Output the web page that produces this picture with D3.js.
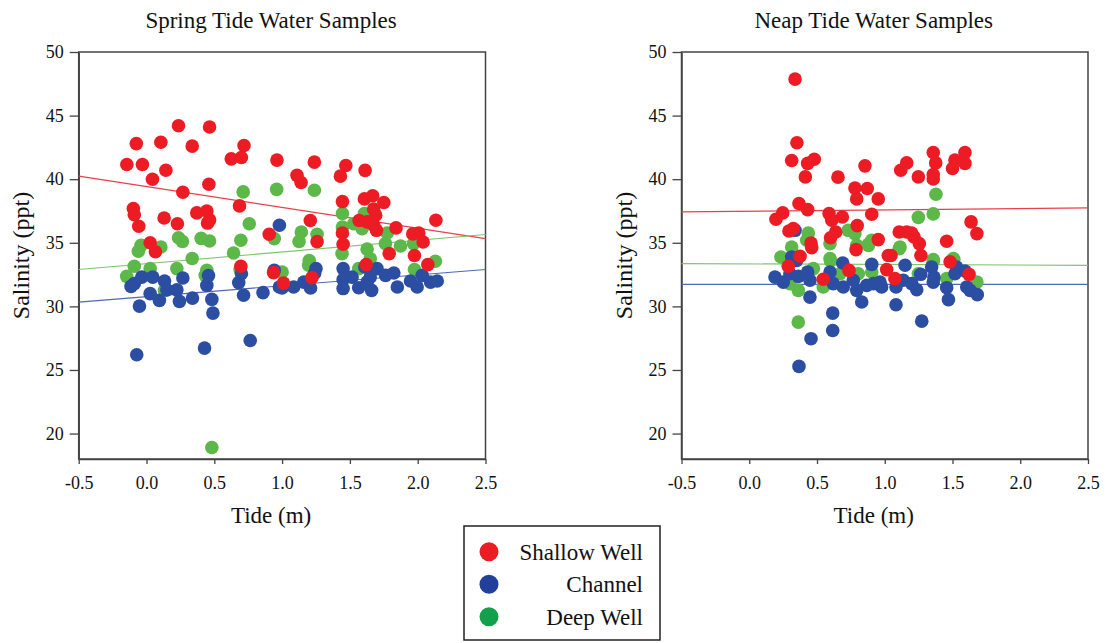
<!DOCTYPE html>
<html><head><meta charset="utf-8">
<script src="https://cdn.jsdelivr.net/npm/d3@7"></script>
<style>body{margin:0;background:#fff}svg{display:block}svg text{font-family:"Liberation Serif","Times New Roman",serif !important;fill:#111}</style>
</head><body><svg id="c" width="1111" height="643"></svg>
<script>
const seriesNames = ["Shallow Well", "Channel", "Deep Well"];
const panelTitles = ["Spring Tide Water Samples", "Neap Tide Water Samples"];
const xTicks = [-0.5, 0.0, 0.5, 1.0, 1.5, 2.0, 2.5];
const yTicks = [20, 25, 30, 35, 40, 45, 50];

// Spring tide: [tide (m), salinity (ppt)]
const springShallow = [[0.236,44.2],[0.465,44.1],[-0.075,42.8],[0.106,42.9],[0.337,42.6],[0.719,42.65],[0.625,41.6],[0.70,41.7],[-0.145,41.16],[-0.03,41.16],[0.143,40.7],[0.044,40.0],[0.962,41.5],[0.268,38.97],[0.46,39.6],[0.686,37.9],[-0.097,37.7],[-0.09,37.2],[-0.057,36.3],[0.13,36.95],[0.228,36.5],[0.371,37.35],[0.445,37.5],[0.465,36.8],[0.45,36.55],[0.027,35.0],[0.066,34.3],[0.905,35.67],[1.238,41.34],[1.11,40.3],[1.14,39.74],[1.47,41.08],[1.43,40.24],[1.612,40.69],[1.445,38.24],[1.607,38.45],[1.668,38.7],[1.75,38.17],[1.675,37.66],[1.69,37.17],[1.568,36.75],[1.627,36.64],[1.676,36.38],[1.696,35.98],[1.208,36.75],[2.134,36.77],[1.84,36.17],[1.964,35.7],[2.008,35.77],[2.04,35.06],[1.258,35.09],[1.445,35.77],[1.45,34.88],[1.79,34.15],[1.976,34.0],[2.075,33.28],[1.62,33.28],[0.937,32.65],[1.01,31.83],[1.22,32.26],[0.696,33.15]];
const springChannel = [[-0.114,31.57],[-0.09,31.79],[-0.035,32.3],[0.046,32.3],[0.133,32.0],[0.15,31.3],[0.027,31.0],[0.095,30.47],[-0.052,30.02],[0.224,31.3],[0.268,32.23],[0.243,30.39],[0.339,30.65],[0.457,32.42],[0.445,31.65],[0.482,30.55],[0.49,29.47],[0.68,31.87],[0.716,30.87],[0.70,32.57],[0.859,31.08],[0.942,32.83],[0.98,31.52],[-0.072,26.2],[0.428,26.72],[0.765,27.32],[0.98,36.38],[1.25,32.97],[1.24,32.6],[1.0,31.44],[1.085,31.52],[1.16,31.91],[1.21,31.44],[1.45,32.97],[1.45,32.1],[1.45,31.4],[1.516,32.3],[1.565,31.47],[1.61,33.1],[1.65,32.3],[1.66,31.26],[1.627,31.91],[1.70,32.97],[1.763,32.44],[1.824,32.62],[1.85,31.52],[1.947,31.99],[1.996,31.52],[2.033,32.44],[2.095,31.91],[2.144,31.99]];
const springDeep = [[0.713,39.0],[0.96,39.2],[0.758,36.5],[0.236,35.4],[0.265,35.1],[0.403,35.35],[0.465,35.14],[0.696,35.2],[-0.04,34.8],[-0.06,34.33],[0.106,34.67],[0.337,33.76],[0.642,34.2],[0.942,35.33],[1.238,39.13],[1.445,37.3],[1.607,37.3],[1.528,36.5],[1.445,36.24],[1.59,36.1],[1.142,35.85],[1.125,35.1],[1.258,35.67],[1.775,35.77],[1.762,34.93],[1.873,34.75],[1.97,34.93],[1.627,34.5],[1.442,34.15],[1.2,33.6],[2.13,33.55],[1.65,33.75],[-0.09,33.15],[-0.146,32.36],[0.027,32.97],[0.224,32.97],[0.445,32.83],[0.433,32.44],[0.69,32.9],[0.133,31.26],[0.482,18.9],[1.0,32.7],[1.196,33.23],[1.565,32.97],[1.976,32.9]];

// Neap tide
const neapShallow = [[0.338,47.87],[0.352,42.86],[0.313,41.47],[0.431,41.24],[0.48,41.57],[0.414,40.18],[0.655,40.16],[0.854,41.05],[0.78,39.3],[0.871,39.27],[0.793,38.45],[0.952,38.45],[0.367,38.09],[0.431,37.61],[0.247,37.35],[0.197,36.85],[0.589,37.3],[0.609,36.77],[0.687,37.03],[0.904,37.24],[0.797,36.35],[0.293,35.93],[0.325,36.12],[0.638,35.85],[0.6,35.4],[0.456,34.98],[0.461,34.62],[0.952,35.25],[0.788,34.46],[0.375,33.94],[1.026,34.0],[1.358,42.1],[1.376,41.28],[1.592,42.1],[1.592,41.24],[1.518,41.5],[1.50,40.84],[1.162,41.28],[1.118,40.7],[1.248,40.18],[1.358,40.37],[1.358,40.02],[1.637,36.64],[1.68,35.72],[1.107,35.85],[1.162,35.85],[1.199,35.77],[1.216,35.46],[1.255,34.93],[1.457,35.12],[1.046,34.0],[1.267,34.0],[1.482,33.5],[0.288,33.15],[0.736,32.83],[0.546,32.13],[1.014,32.89],[1.075,32.18],[1.622,32.52]];
const neapChannel = [[0.19,32.3],[0.251,31.91],[0.338,35.98],[0.313,33.88],[0.35,33.62],[0.3,32.57],[0.362,32.36],[0.431,32.7],[0.448,32.05],[0.448,30.73],[0.596,32.7],[0.62,31.79],[0.69,33.41],[0.694,31.52],[0.768,32.05],[0.793,31.26],[0.83,30.34],[0.867,31.65],[0.904,33.3],[0.965,31.91],[0.977,31.52],[0.616,29.47],[0.616,28.1],[0.456,27.46],[0.367,25.28],[0.916,31.79],[1.083,31.52],[1.15,33.23],[1.137,32.05],[1.199,31.79],[1.236,31.31],[1.265,32.52],[1.346,33.1],[1.363,32.3],[1.358,31.91],[1.457,31.47],[1.47,30.53],[1.518,32.57],[1.53,33.1],[1.592,32.78],[1.605,31.52],[1.63,31.26],[1.683,30.92],[1.083,30.13],[1.273,28.84]];
const neapDeep = [[0.436,35.77],[0.424,35.2],[0.73,35.98],[0.78,35.72],[0.879,34.88],[0.904,35.2],[0.596,34.93],[0.313,34.67],[0.234,33.88],[0.596,33.76],[1.378,38.82],[1.248,37.0],[1.358,37.27],[1.107,34.54],[1.506,33.76],[1.358,33.68],[0.362,31.26],[0.362,28.76],[0.6,33.57],[0.793,34.8],[0.88,34.8],[0.473,32.97],[0.67,32.57],[0.805,32.57],[0.904,32.7],[0.3,31.79],[0.546,31.52],[1.113,34.67],[1.358,33.57],[1.51,33.68],[1.68,31.91],[1.248,32.57],[1.457,32.18]];

// Fitted trend lines: salinity at tide -0.5 and at 2.5 [shallow, channel, deep]
const springFitStart = [40.24, 30.34, 32.9];
const springFitEnd = [35.33, 32.9, 35.65];
const neapFitStart = [37.43, 31.73, 33.36];
const neapFitEnd = [37.74, 31.73, 33.23];

const pointColors = ["#ed1c24", "#2b4ea2", "#5cb848"];
const lineColors = ["#e8404a", "#4f68b3", "#7fc46d"];
const legendColors = ["#ec1c24", "#22409a", "#12a04b"];

const FONT = "'Liberation Serif', 'Times New Roman', serif";
const svg = d3.select("#c");
const y = d3.scaleLinear().domain([18, 50]).range([459, 52]);

const panels = [
  {x0: 78.7, x1: 485.5, title: panelTitles[0], series: [springShallow, springChannel, springDeep], fs: springFitStart, fe: springFitEnd},
  {x0: 681.5, x1: 1088, title: panelTitles[1], series: [neapShallow, neapChannel, neapDeep], fs: neapFitStart, fe: neapFitEnd}
];

panels.forEach(p => {
  const x = d3.scaleLinear().domain([-0.5, 2.5]).range([p.x0, p.x1]);
  const g = svg.append("g");
  g.append("rect").attr("x", p.x0).attr("y", y(50)).attr("width", p.x1 - p.x0).attr("height", y(18) - y(50))
    .attr("fill", "none").attr("stroke", "#444").attr("stroke-width", 1.5);
  const ax = g.append("g").attr("transform", `translate(0,${y(18)})`)
    .call(d3.axisBottom(x).tickValues(xTicks).tickFormat(d => d3.format(".1f")(d).replace("\u2212", "-")).tickSize(5).tickSizeOuter(0).tickPadding(12));
  const ay = g.append("g").attr("transform", `translate(${p.x0},0)`)
    .call(d3.axisLeft(y).tickValues(yTicks).tickSize(9).tickSizeOuter(0).tickPadding(6));
  [ax, ay].forEach(a => {
    a.attr("font-family", FONT).attr("font-size", 18);
    a.select(".domain").attr("stroke", "#444").attr("stroke-width", 1.5);
    a.selectAll(".tick line").attr("stroke", "#444").attr("stroke-width", 1.3);
    a.selectAll(".tick text").style("font-family", FONT).style("font-size", "18px").attr("fill", "#111");
  });
  [0, 1, 2].forEach(i => {
    g.append("line").attr("x1", x(-0.5)).attr("x2", x(2.5)).attr("y1", y(p.fs[i])).attr("y2", y(p.fe[i]))
      .attr("stroke", lineColors[i]).attr("stroke-width", 1.2);
  });
  [2, 1, 0].forEach(i => {
    g.append("g").selectAll("circle").data(p.series[i]).join("circle")
      .attr("cx", d => x(d[0])).attr("cy", d => y(d[1])).attr("r", 6.8).attr("fill", pointColors[i]);
  });
  const cx = (p.x0 + p.x1) / 2 - 11;
  g.append("text").attr("x", cx).attr("y", 28).attr("text-anchor", "middle").attr("font-size", 23).text(p.title);
  g.append("text").attr("x", cx).attr("y", 523).attr("text-anchor", "middle").attr("font-size", 23).text("Tide (m)");
  g.append("text").attr("transform", `translate(${p.x0 - 50},${(y(50) + y(18)) / 2}) rotate(-90)`)
    .attr("text-anchor", "middle").attr("font-size", 24).text("Salinity (ppt)");
});

const lg = svg.append("g");
lg.append("rect").attr("x", 464).attr("y", 526).attr("width", 196).attr("height", 114)
  .attr("fill", "#fff").attr("stroke", "#222").attr("stroke-width", 1.5);
seriesNames.forEach((n, i) => {
  const cy = 551.7 + i * 32.5;
  lg.append("circle").attr("cx", 489).attr("cy", cy).attr("r", 9.5).attr("fill", legendColors[i]);
  lg.append("text").attr("x", 643).attr("y", cy + 8).attr("text-anchor", "end").attr("font-size", 23).text(n);
});
</script></body></html>
